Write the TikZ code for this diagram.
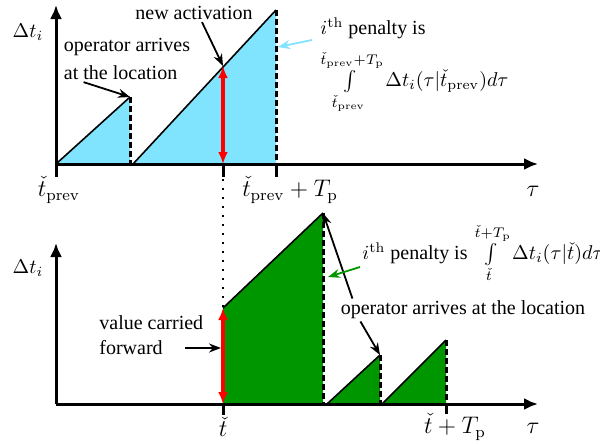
\documentclass[tikz,border=0pt]{standalone}
\usepackage{amsmath}
\usepackage[no-math]{fontspec}
\setmainfont{Liberation Serif}
\usetikzlibrary{arrows.meta, positioning}
\definecolor{skyfill}{RGB}{128,228,255}
\definecolor{penaltygreen}{RGB}{0,150,0}

\begin{document}
\begin{tikzpicture}[
    x=0.5pt, y=-0.5pt,
    axis/.style={-{Latex[length=7pt,width=6pt]}, line width=1.5pt},
    tickmark/.style={line width=1.5pt},
    ramp/.style={line width=0.8pt},
    drop/.style={line width=1.5pt, dash pattern=on 3pt off 1.5pt},
    valarrow/.style={{Latex[length=6pt,width=5pt]}-{Latex[length=6pt,width=5pt]}, red, line width=2pt},
    arrow/.style={-{Stealth[length=6pt]}, line width=0.9pt},
    note/.style={font=\normalsize, align=left, inner sep=1pt},
    ticklabel/.style={font=\large, inner sep=0pt},
]
\useasboundingbox (0,0) rectangle (600,445);

%% Punti del pannello superiore
\coordinate (o1) at (56,164);
\coordinate (a1) at (130,97);
\coordinate (b1) at (130,164);
\coordinate (c1) at (133,164);
\coordinate (a2) at (276,10);
\coordinate (b2) at (276,164);
\coordinate (act) at (223,66);
\coordinate (hit1) at (223,164);
\coordinate (yt) at (56,5);
\coordinate (xt) at (538,164);
\coordinate (pk1) at (278,47);

%% Punti del pannello inferiore
\coordinate (o2) at (56,404);
\coordinate (s2) at (223,308);
\coordinate (g1) at (223,404);
\coordinate (a3) at (323,213);
\coordinate (b3) at (323,404);
\coordinate (c3) at (327,404);
\coordinate (a4) at (380,355);
\coordinate (b4) at (380,404);
\coordinate (c4) at (382,404);
\coordinate (a5) at (446,340);
\coordinate (b5) at (446,404);
\coordinate (yb) at (56,243);
\coordinate (xb) at (538,404);
\coordinate (vtip) at (221,348);
\coordinate (pk2) at (328,277);

%% Aree di penalita
\fill[skyfill] (o1) -- (a1) -- (b1) -- cycle;
\fill[skyfill] (c1) -- (a2) -- (b2) -- cycle;
\fill[penaltygreen] (g1) -- (s2) -- (a3) -- (b3) -- cycle;
\fill[penaltygreen] (c3) -- (a4) -- (b4) -- cycle;
\fill[penaltygreen] (c4) -- (a5) -- (b5) -- cycle;

%% Rampe e cadute
\draw[ramp] (o1) -- (a1);
\draw[ramp] (c1) -- (a2);
\draw[ramp] (s2) -- (a3);
\draw[ramp] (c3) -- (a4);
\draw[ramp] (c4) -- (a5);
\draw[drop] (a1) -- (b1);
\draw[drop] (a2) -- (b2);
\draw[drop] (a3) -- (b3);
\draw[drop] (a4) -- (b4);
\draw[drop] (a5) -- (b5);

%% Assi e tacche
\draw[axis] (o1) -- (yt);
\draw[axis] (o1) -- (xt);
\draw[axis] (o2) -- (yb);
\draw[axis] (o2) -- (xb);
\draw[tickmark] (o1) -- ++(0,13);
\draw[tickmark] (hit1) -- ++(0,13);
\draw[tickmark] (b2) -- ++(0,13);
\draw[tickmark] (g1) -- ++(0,11);
\draw[tickmark] (b5) -- ++(0,10);

%% Valore riportato
\draw[valarrow] (hit1) -- (act);
\draw[valarrow] (g1) -- (s2);
\draw[line width=0.8pt, dash pattern=on 1pt off 3.5pt] (hit1) ++(0,15) -- (s2);

%% Etichette degli assi
\node (dt1) at (28,32) {$\Delta t_i$};
\node (dt2) at (28,268) {$\Delta t_i$};
\node[ticklabel] (tprev) at (59,190) {$\check t_{\rm prev}$};
\node[ticklabel] (tprevT) at (290,190) {$\check t_{\rm prev}+T_{\rm p}$};
\node[ticklabel] (tau1) at (533,191) {$\tau$};
\node[ticklabel] (tchk) at (223,427) {$\check t$};
\node[ticklabel] (tchkT) at (455,427) {$\check t+T_{\rm p}$};
\node[ticklabel] (tau2) at (533,428) {$\tau$};

%% Note
\node[note] (newact) at (194,13) {new activation};
\node[note] (oparr) at (127,59) {operator arrives\\[2pt] at the location};
\node[note, anchor=west] (pentop) at (318,28) {$i^{\rm th}$ penalty is};
\node[note, anchor=west] (inttop) at (316,82)
    {$\int\limits_{\check t_{\rm prev}}^{\check t_{\rm prev}+T_{\rm p}}\Delta t_i(\tau|\check t_{\rm prev})d\tau$};
\node[note, anchor=west] (vc) at (97,323) {value carried};
\node[note, anchor=west] (fw) at (97,348) {forward};
\node[note] (opbot) at (463,310) {operator arrives at the location};
\node[note, anchor=west] (penbot) at (360,253)
    {$i^{\rm th}$ penalty is $\int\limits_{\check t}^{\check t+T_{\rm p}}\Delta t_i(\tau|\check t)d\tau$};

%% Frecce delle note
\draw[arrow] ([xshift=4pt]newact.south) -- (act);
\draw[arrow] ([xshift=11pt]oparr.south west) -- (a1);
\draw[arrow, skyfill] ([xshift=-3pt,yshift=-6pt]pentop.west) -- (pk1);
\draw[arrow] ([xshift=10pt]fw.east) -- (vtip);
\draw[arrow] ([xshift=7pt]opbot.north west) -- (a3);
\draw[arrow] ([xshift=11pt]opbot.south west) -- (a4);
\draw[arrow, penaltygreen] ([yshift=-7pt]penbot.west) -- (pk2);

\end{tikzpicture}
\end{document}
